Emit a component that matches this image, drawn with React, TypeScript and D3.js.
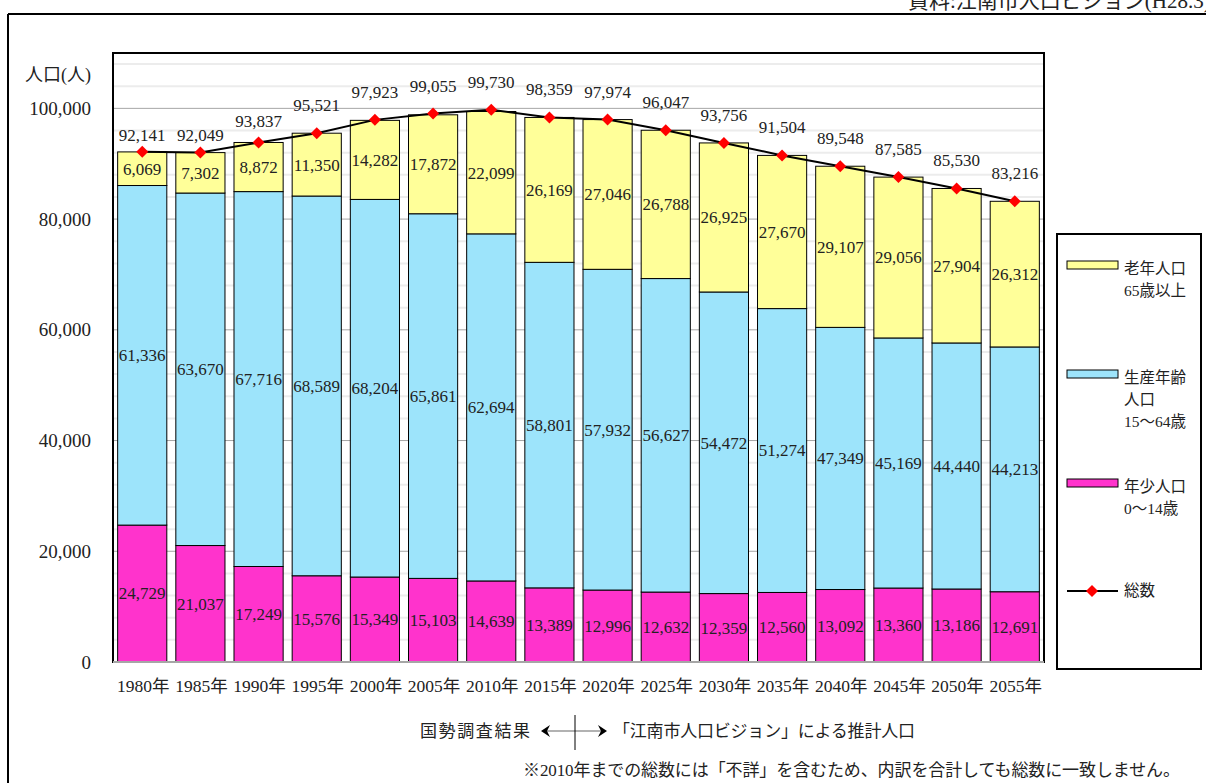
import React from 'react';
import * as d3 from 'd3';

// values
const years = ['1980', '1985', '1990', '1995', '2000', '2005', '2010', '2015', '2020', '2025', '2030', '2035', '2040', '2045', '2050', '2055'];
const young = [24729, 21037, 17249, 15576, 15349, 15103, 14639, 13389, 12996, 12632, 12359, 12560, 13092, 13360, 13186, 12691];
const working = [61336, 63670, 67716, 68589, 68204, 65861, 62694, 58801, 57932, 56627, 54472, 51274, 47349, 45169, 44440, 44213];
const elderly = [6069, 7302, 8872, 11350, 14282, 17872, 22099, 26169, 27046, 26788, 26925, 27670, 29107, 29056, 27904, 26312];
const totals = [92141, 92049, 93837, 95521, 97923, 99055, 99730, 98359, 97974, 96047, 93756, 91504, 89548, 87585, 85530, 83216];
const yTicks = [0, 20000, 40000, 60000, 80000, 100000];

const seriesNames = ['young', 'working', 'elderly'];
const colors: Record<string, string> = {
  young: '#FF33CC',
  working: '#9DE4FB',
  elderly: '#FFFF99',
};

const FONT = "'Liberation Serif', 'DejaVu Serif', 'Noto Sans CJK JP', serif";
const W = 1206;
const H = 783;
const plot = { left: 113, right: 1044, top: 53, bottom: 662 };

const fmt = d3.format(',');

const Diamond = ({ cx, cy, r }: { cx: number; cy: number; r: number }) => (
  <path d={`M${cx},${cy - r}L${cx + r},${cy}L${cx},${cy + r}L${cx - r},${cy}Z`} fill='#FF0000' />
);

const App = () => {
  const rows = years.map((y, i) => ({ year: y, young: young[i], working: working[i], elderly: elderly[i] }));
  const stacked = d3.stack<any>().keys(seriesNames)(rows);

  const x = d3.scaleBand<string>().domain(years).range([plot.left, plot.right]).paddingInner(0.155).paddingOuter(0.08);
  const y = d3.scaleLinear().domain([0, 110000]).range([plot.bottom, plot.top]);
  const minorTicks = d3.range(4000, 110000, 4000).filter((v) => v % 20000 !== 0);

  const line = d3
    .line<number>()
    .x((_, i) => (x(years[i]) as number) + x.bandwidth() / 2)
    .y((d) => y(d));

  // legend entries
  const legend = [
    { key: 'elderly', cy: 265, lines: ['老年人口', '65歳以上'] },
    { key: 'working', cy: 374, lines: ['生産年齢', '人口', '15～64歳'] },
    { key: 'young', cy: 483, lines: ['年少人口', '0～14歳'] },
  ];

  // the first two total labels sit closer to their markers
  const labelLift = (i: number) => (i < 2 ? 17 : i === 2 ? 21 : 28);

  return (
    <svg width={W} height={H} style={{ position: 'absolute', left: 0, top: 0 }} fontFamily={FONT}>
      <rect width={W} height={H} fill='#fff' />
      {/* source, cut off at the right edge */}
      <text x={908} y={8} fontSize={21} fill='#222'>資料:江南市人口ビジョン(H28.3)</text>
      {/* outer frame */}
      <line x1={8} x2={W + 5} y1={14} y2={14} stroke='#000' strokeWidth={2} />
      <line x1={8} x2={8} y1={14} y2={H + 5} stroke='#000' strokeWidth={2} />

      {/* grid */}
      {minorTicks.map((t) => (
        <line key={'m' + t} x1={plot.left} x2={plot.right} y1={y(t)} y2={y(t)} stroke='#ececec' strokeWidth={2} />
      ))}
      {yTicks.map((t) => (
        <line key={'g' + t} x1={plot.left} x2={plot.right} y1={y(t)} y2={y(t)} stroke='#a6a6a6' strokeWidth={1} />
      ))}

      {/* y axis labels */}
      {yTicks.map((t) => (
        <text key={'yt' + t} x={91} y={y(t)} dy='0.35em' textAnchor='end' fontSize={19} fill='#222'>
          {fmt(t)}
        </text>
      ))}
      <text x={25} y={75} dy='0.35em' fontSize={18} fill='#222'>人口(人)</text>

      {/* bars */}
      {stacked.map((s) => (
        <g key={s.key}>
          {s.map((d, i) => (
            <rect
              key={i}
              x={x(years[i])}
              y={y(d[1])}
              width={x.bandwidth()}
              height={y(d[0]) - y(d[1])}
              fill={colors[s.key]}
              stroke='#000'
              strokeWidth={1}
            />
          ))}
        </g>
      ))}
      {/* segment labels */}
      {stacked.map((s) => (
        <g key={'l' + s.key}>
          {s.map((d, i) => (
            <text
              key={i}
              x={(x(years[i]) as number) + x.bandwidth() / 2}
              y={y((d[0] + d[1]) / 2)}
              dy='0.35em'
              textAnchor='middle'
              fontSize={17}
              fill='#222'
            >
              {fmt(d[1] - d[0])}
            </text>
          ))}
        </g>
      ))}

      {/* plot frame */}
      <rect x={plot.left} y={plot.top} width={plot.right - plot.left} height={plot.bottom - plot.top} fill='none' stroke='#000' strokeWidth={2} />
      <line x1={plot.left} x2={plot.right} y1={plot.bottom} y2={plot.bottom} stroke='#a6a6a6' strokeWidth={2} />

      {/* total line */}
      <path d={line(totals) || ''} fill='none' stroke='#000' strokeWidth={2} />
      {totals.map((t, i) => {
        const cx = (x(years[i]) as number) + x.bandwidth() / 2;
        return (
          <g key={'t' + i}>
            <Diamond cx={cx} cy={y(t)} r={6} />
            <text x={cx} y={y(t) - labelLift(i)} dy='0.35em' textAnchor='middle' fontSize={17} fill='#222'>
              {fmt(t)}
            </text>
          </g>
        );
      })}

      {/* x axis labels */}
      {years.map((yr) => (
        <text key={'x' + yr} x={(x(yr) as number) + x.bandwidth() / 2 + 1} y={686} dy='0.35em' textAnchor='middle' fontSize={17.5} fill='#222'>
          {yr}年
        </text>
      ))}

      {/* legend */}
      <rect x={1057} y={234} width={144} height={435} fill='#fff' stroke='#000' strokeWidth={2} />
      {legend.map((l) => (
        <g key={'lg' + l.key}>
          <rect x={1067} y={l.cy - 4} width={51} height={8} fill={colors[l.key]} stroke='#000' strokeWidth={1} />
          {l.lines.map((t, j) => (
            <text key={j} x={1124} y={l.cy + 4 + j * 22} dy='0.35em' fontSize={15.5} fill='#222'>
              {t}
            </text>
          ))}
        </g>
      ))}
      <line x1={1067} x2={1118} y1={591} y2={591} stroke='#000' strokeWidth={2} />
      <Diamond cx={1092} cy={591} r={6} />
      <text x={1124} y={591} dy='0.35em' fontSize={15.5} fill='#222'>総数</text>

      {/* annotation below */}
      <text x={420} y={731} dy='0.35em' fontSize={17} fill='#222' textLength={110}>国勢調査結果</text>
      <line x1={545} x2={603} y1={731} y2={731} stroke='#999' strokeWidth={1.5} />
      <path d='M541,731L550,725L547,731L550,737Z' fill='#000' />
      <path d='M607,731L598,725L601,731L598,737Z' fill='#000' />
      <line x1={575} x2={575} y1={715} y2={750} stroke='#000' strokeWidth={1} />
      <text x={613} y={731} dy='0.35em' fontSize={17} fill='#222' textLength={302}>「江南市人口ビジョン」による推計人口</text>
      <text x={523} y={770} dy='0.35em' fontSize={17} fill='#222' textLength={657}>
        ※2010年までの総数には「不詳」を含むため、内訳を合計しても総数に一致しません。
      </text>
    </svg>
  );
};

export default App;
